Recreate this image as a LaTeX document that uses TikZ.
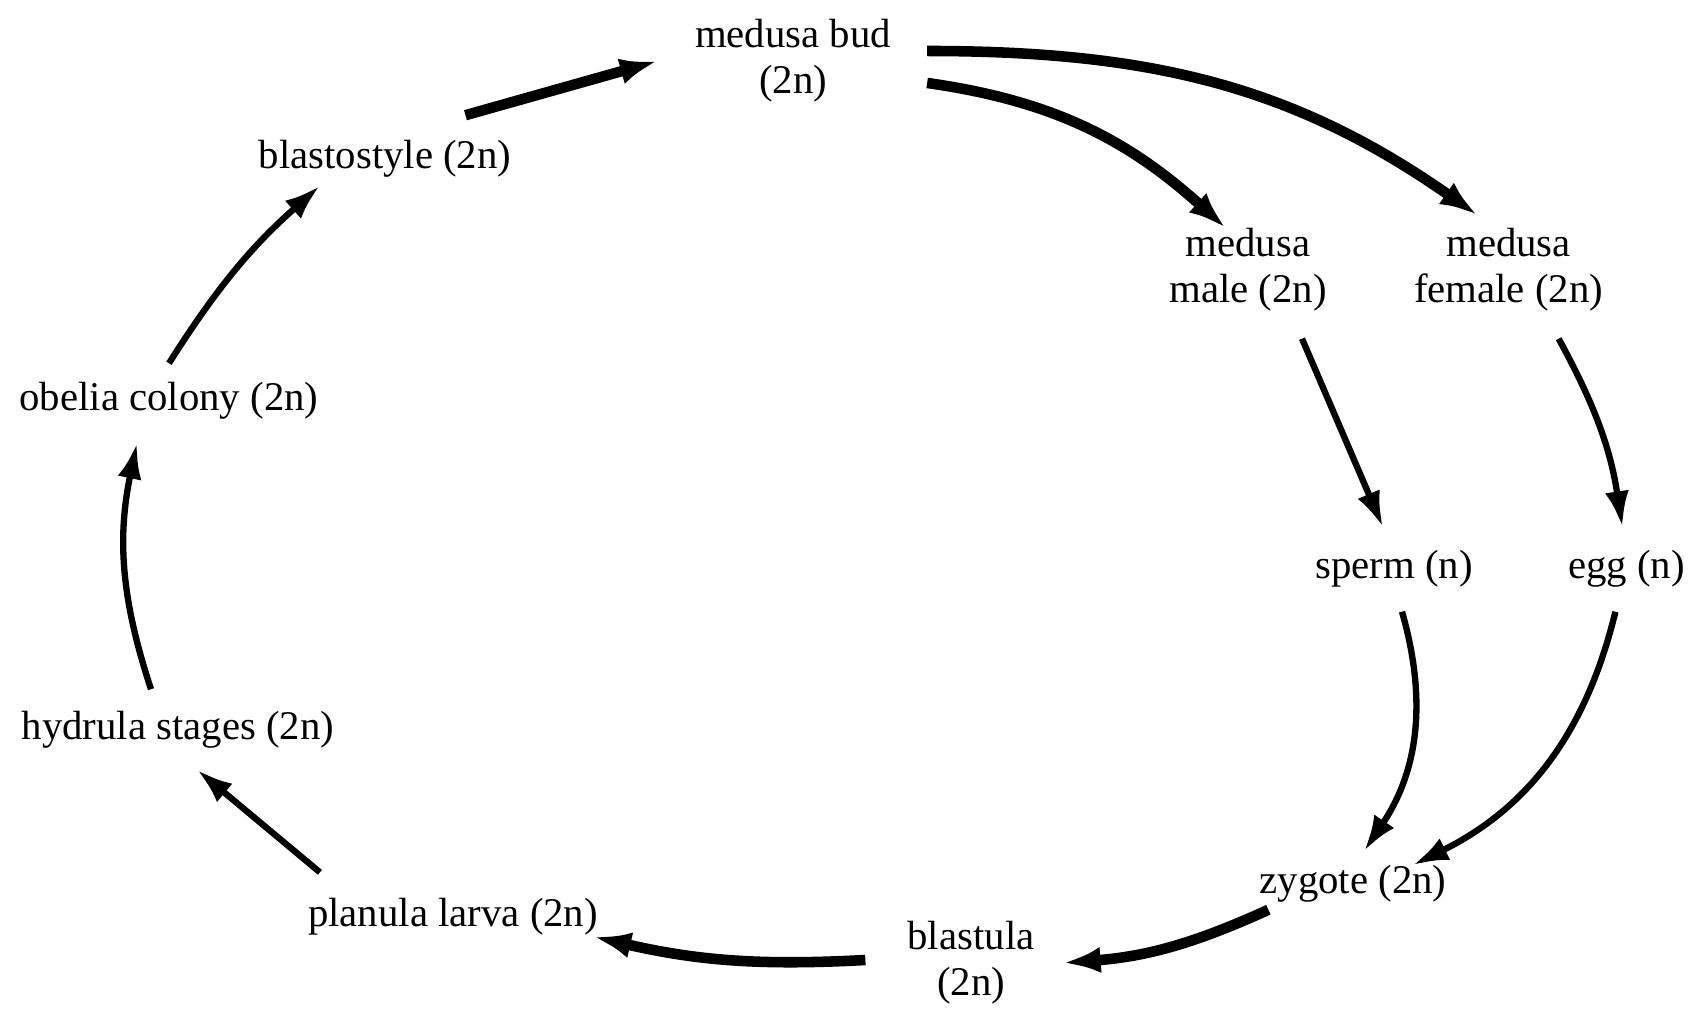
\documentclass[tikz,border=0pt]{standalone}
\usepackage{fontspec}
\setmainfont{Liberation Serif}
\usetikzlibrary{positioning,arrows.meta}
\tikzset{
  stage/.style={
    inner sep=1pt,
    align=center,
    font=\fontsize{11.6pt}{13.1pt}\selectfont
  },
  thinArrow/.style={
    -{Latex[length=3.6mm,width=2.4mm]},
    line width=1.8pt
  },
  thickArrow/.style={
    -{Latex[length=3.8mm,width=2.6mm]},
    line width=3pt
  }
}

\begin{document}
\begin{tikzpicture}
  \useasboundingbox (0,0) rectangle (16.91,10.17);

  \node[stage] (bud) at (7.93,9.56) {medusa bud\\(2n)};
  \node[stage] (blasto) at (3.85,8.58) {blastostyle (2n)};
  \node[stage] (obelia) at (1.69,6.16) {obelia colony (2n)};
  \node[stage] (hydrula) at (1.78,2.87) {hydrula stages (2n)};
  \node[stage] (planula) at (4.53,1.00) {planula larva (2n)};
  \node[stage] (blastula) at (9.71,0.54) {blastula\\(2n)};
  \node[stage] (zygote) at (13.53,1.33) {zygote (2n)};
  \node[stage] (sperm) at (13.94,4.48) {sperm (n)};
  \node[stage, right=0.87cm of sperm] (egg) {egg (n)};
  \node[stage] (male) at (12.48,7.47) {medusa\\male (2n)};
  \node[stage, right=0.79cm of male] (female) {medusa\\female (2n)};

  \draw[thinArrow] ([xshift=1.6mm,yshift=2.2mm]planula.north west) -- ([xshift=1.9mm,yshift=-1.7mm]hydrula.south);
  \draw[thinArrow] ([xshift=-2.7mm,yshift=1.8mm]hydrula.north) to[bend left=15] ([xshift=-3.2mm,yshift=-1.9mm]obelia.south);
  \draw[thinArrow] ([yshift=1.5mm]obelia.north) to[bend left=8] ([xshift=-6.5mm,yshift=-0.4mm]blasto.south);
  \draw[thickArrow] ([xshift=-5mm,yshift=2.1mm]blasto.north east) -- ([xshift=-3.3mm]bud.west);

  \draw[thickArrow] ([xshift=3.2mm,yshift=-2.2mm]bud.east) to[out=-8,in=138] ([xshift=-2.2mm,yshift=-0.4mm]male.north);
  \draw[thickArrow] ([xshift=3.2mm,yshift=1mm]bud.east) to[out=0,in=145] ([xshift=-3.1mm,yshift=0.9mm]female.north);
  \draw[thinArrow] ([xshift=5.4mm,yshift=-2.3mm]male.south) -- ([xshift=-1.1mm,yshift=1.9mm]sperm.north);
  \draw[thinArrow] ([xshift=5mm,yshift=-2.3mm]female.south) to[bend left=10] ([xshift=-0.4mm,yshift=1.9mm]egg.north);

  \draw[thinArrow] ([xshift=0.8mm,yshift=-2mm]sperm.south) to[bend left=25] ([xshift=1.1mm,yshift=1mm]zygote.north);
  \draw[thinArrow] ([xshift=-1.1mm,yshift=-2mm]egg.south) to[bend left=25] ([xshift=-3.8mm,yshift=-0.4mm]zygote.north east);
  \draw[thickArrow] ([xshift=1.3mm,yshift=-0.3mm]zygote.south west) to[bend left=10] ([xshift=2.4mm]blastula.east);
  \draw[thickArrow] ([xshift=-3.8mm,yshift=0.3mm]blastula.west) to[bend left=8] ([xshift=-0.9mm,yshift=0.3mm]planula.south east);
\end{tikzpicture}
\end{document}
